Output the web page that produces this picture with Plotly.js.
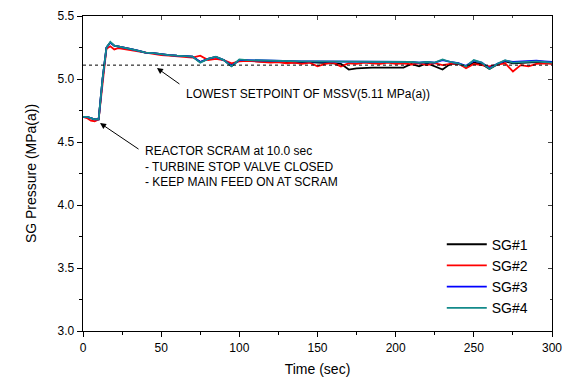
<!DOCTYPE html>
<html><head><meta charset="utf-8">
<script src="https://cdn.plot.ly/plotly-3.0.1.min.js"></script>
<style>html,body{margin:0;padding:0;background:#fff}#plot{width:563px;height:380px}</style>
</head><body><div id="plot"></div>
<script>
const time = [0,2.5,5,7.5,10,12.5,15,17.5,20,22.5,25,30,35,40,45,50,55,60,65,70,75,80,85,90,95,100,105,110,115,120,125,130,135,140,145,150,155,160,165,170,175,180,185,190,195,200,205,210,215,220,225,230,235,240,245,250,255,260,265,270,275,280,285,290,295,300];

const sg4 = [4.70,4.70,4.69,4.68,4.68,5.00,5.25,5.295,5.265,5.26,5.25,5.24,5.225,5.21,5.205,5.195,5.19,5.185,5.18,5.178,5.13,5.16,5.177,5.15,5.10,5.155,5.15,5.148,5.145,5.145,5.143,5.14,5.14,5.14,5.14,5.14,5.14,5.14,5.138,5.138,5.138,5.138,5.138,5.138,5.138,5.137,5.137,5.135,5.13,5.135,5.13,5.155,5.135,5.125,5.10,5.15,5.13,5.08,5.12,5.15,5.13,5.135,5.14,5.14,5.135,5.13];

const sg3 = [4.70,4.70,4.69,4.68,4.68,5.00,5.25,5.29,5.265,5.26,5.25,5.24,5.225,5.21,5.205,5.195,5.19,5.185,5.18,5.178,5.135,5.16,5.175,5.15,5.105,5.15,5.15,5.148,5.145,5.145,5.143,5.14,5.14,5.14,5.14,5.14,5.14,5.14,5.138,5.138,5.138,5.138,5.138,5.138,5.138,5.137,5.137,5.135,5.13,5.135,5.13,5.15,5.135,5.125,5.105,5.145,5.13,5.085,5.12,5.145,5.135,5.14,5.145,5.145,5.14,5.135];

const sg2 = [4.70,4.69,4.67,4.665,4.68,4.98,5.24,5.26,5.235,5.245,5.24,5.23,5.22,5.205,5.20,5.19,5.185,5.18,5.175,5.17,5.185,5.15,5.16,5.15,5.125,5.14,5.145,5.14,5.135,5.13,5.135,5.125,5.13,5.12,5.13,5.10,5.12,5.13,5.10,5.125,5.12,5.13,5.125,5.12,5.13,5.12,5.125,5.115,5.125,5.11,5.125,5.11,5.12,5.125,5.085,5.12,5.11,5.10,5.115,5.125,5.06,5.11,5.10,5.12,5.125,5.12];

const sg1 = [4.70,4.70,4.69,4.68,4.68,5.00,5.25,5.29,5.265,5.26,5.25,5.24,5.225,5.21,5.205,5.195,5.19,5.185,5.18,5.178,5.135,5.16,5.175,5.15,5.105,5.15,5.145,5.14,5.14,5.135,5.135,5.13,5.13,5.13,5.135,5.13,5.13,5.125,5.12,5.075,5.085,5.09,5.09,5.09,5.09,5.09,5.09,5.12,5.10,5.125,5.10,5.075,5.12,5.12,5.095,5.13,5.12,5.08,5.115,5.14,5.125,5.13,5.135,5.135,5.13,5.125];

const setpoint = 5.11;
const seriesNames = ['SG#1','SG#2','SG#3','SG#4'];
const seriesColors = ['#000000','#ff0000','#0000ff','#138a8a'];
const seriesData = [sg1, sg2, sg3, sg4];

const FONT = 'Liberation Sans, Arial, sans-serif';

const traces = seriesData.map((v,i)=>({
  x: time, y: v, type:'scatter', mode:'lines', name: seriesNames[i],
  line:{color: seriesColors[i], width: 1.8}
}));
traces.push({x:[0,300], y:[setpoint,setpoint], type:'scatter', mode:'lines', showlegend:false,
  line:{color:'#000', width:1, dash:'dot'}, hoverinfo:'skip'});

const axisCommon = {
  showline:true, linecolor:'#000', linewidth:1.3, showgrid:false, zeroline:false,
  ticks:'outside', ticklen:5, tickcolor:'#000', tickwidth:1,
  tickfont:{family:FONT, size:12, color:'#000'}
};

const layout = {
  width:563, height:380,
  margin:{l:83, r:11, t:16, b:49},
  paper_bgcolor:'#fff', plot_bgcolor:'#fff',
  font:{family:FONT, color:'#000'},
  showlegend:true,
  legend:{x:0.765, y:0.325, xanchor:'left', yanchor:'top', bgcolor:'rgba(0,0,0,0)',
    font:{family:FONT, size:14, color:'#000'}, tracegroupgap:0, itemwidth:40},
  xaxis: Object.assign({}, axisCommon, {
    range:[0,300], dtick:50, tick0:0,
    minor:{dtick:25, ticks:'outside', ticklen:3, tickcolor:'#000'},
    title:{text:'Time (sec)', font:{family:FONT, size:14, color:'#000'}, standoff:10}
  }),
  yaxis: Object.assign({}, axisCommon, {
    range:[3.0,5.5], dtick:0.5, tick0:3.0, tickformat:'.1f',
    minor:{dtick:0.25, ticks:'outside', ticklen:3, tickcolor:'#000'},
    title:{text:'SG Pressure (MPa(a))', font:{family:FONT, size:14, color:'#000'}, standoff:17}
  }),
  xaxis2: {overlaying:'x', side:'top', range:[0,300], dtick:50, showline:true, linecolor:'#000', linewidth:1.3,
    ticks:'inside', ticklen:4, showticklabels:false, showgrid:false, zeroline:false,
    minor:{dtick:25, ticks:'inside', ticklen:2}},
  yaxis2: {overlaying:'y', side:'right', range:[3.0,5.5], dtick:0.5, showline:true, linecolor:'#000', linewidth:1.3,
    ticks:'inside', ticklen:4, showticklabels:false, showgrid:false, zeroline:false,
    minor:{dtick:0.25, ticks:'inside', ticklen:2}},
  annotations:[
    {x:47.3, y:5.087, xref:'x', yref:'y', ax:24, ay:17, axref:'pixel', ayref:'pixel',
     showarrow:true, arrowhead:2, arrowsize:1.2, arrowwidth:1, arrowcolor:'#000', text:''},
    {x:64.5, y:4.881, xref:'x', yref:'y', xanchor:'left', yanchor:'middle', showarrow:false,
     text:'LOWEST SETPOINT OF MSSV(5.11 MPa(a))', font:{family:FONT, size:12, color:'#000'}},
    {x:10.9, y:4.65, xref:'x', yref:'y', ax:40, ay:27, axref:'pixel', ayref:'pixel',
     showarrow:true, arrowhead:2, arrowsize:1.2, arrowwidth:1, arrowcolor:'#000', text:''},
    {x:38.2, y:4.302, xref:'x', yref:'y', xanchor:'left', yanchor:'middle', align:'left', showarrow:false,
     text:'REACTOR SCRAM at 10.0 sec<br>- TURBINE STOP VALVE CLOSED<br>- KEEP MAIN FEED ON AT SCRAM',
     font:{family:FONT, size:12, color:'#000'}}
  ]
};

// invisible trace to anchor the mirror axes
traces.push({x:[0], y:[3], xaxis:'x2', yaxis:'y2', mode:'markers', marker:{opacity:0}, showlegend:false, hoverinfo:'skip', type:'scatter'});

Plotly.newPlot('plot', traces, layout, {displayModeBar:false, staticPlot:true});
</script>
</body></html>
